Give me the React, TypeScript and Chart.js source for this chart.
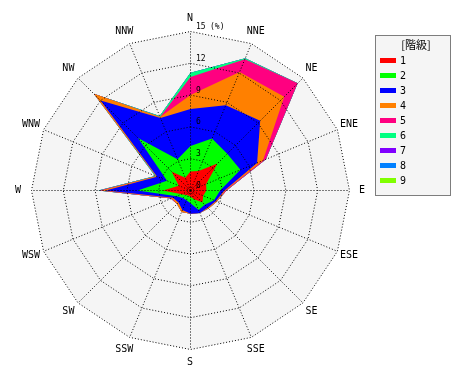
import React, { useEffect, useRef } from 'react';
import { Chart, registerables } from 'chart.js';

Chart.register(...registerables);

// 16 wind directions, clockwise from north
const directions = ['N', 'NNE', 'NE', 'ENE', 'E', 'ESE', 'SE', 'SSE', 'S', 'SSW', 'SW', 'WSW', 'W', 'WNW', 'NW', 'NNW'];

// frequency (%) of each wind-speed class per direction
const class1 = [1.8, 2.0, 3.6, 1.6, 1.5, 1.3, 1.6, 0.9, 0.6, 0.5, 0.6, 0.9, 2.6, 1.2, 2.5, 1.3];
const class2 = [2.4, 3.3, 1.3, 3.5, 1.3, 1.1, 0.3, 1.1, 0.6, 0.5, 0.4, 0.5, 2.4, 1.2, 4.5, 1.9];
const class3 = [3.5, 3.4, 4.4, 1.7, 0.4, 0.2, 0.4, 0.3, 1.0, 1.0, 0.6, 0.4, 3.0, 1.0, 5.0, 4.2];
const class4 = [1.3, 3.4, 3.2, 0.6, 0.1, 0.1, 0.1, 0.0, 0.0, 0.2, 0.2, 0.1, 0.4, 0.1, 0.9, 0.1];
const class5 = [1.7, 1.3, 1.8, 0.3, 0.1, 0.0, 0.0, 0.0, 0.0, 0.0, 0.0, 0.1, 0.2, 0.0, 0.0, 0.0];
const class6 = [0.4, 0.1, 0.0, 0.0, 0.0, 0.0, 0.0, 0.0, 0.0, 0.0, 0.0, 0.0, 0.1, 0.1, 0.0, 0.1];
const class7 = [0, 0, 0, 0, 0, 0, 0, 0, 0, 0, 0, 0, 0, 0, 0, 0];
const class8 = [0, 0, 0, 0, 0, 0, 0, 0, 0, 0, 0, 0, 0, 0, 0, 0];
const class9 = [0, 0, 0, 0, 0, 0, 0, 0, 0, 0, 0, 0, 0, 0, 0, 0];

const classSeries = [class1, class2, class3, class4, class5, class6, class7, class8, class9];
const classLabels = ['1', '2', '3', '4', '5', '6', '7', '8', '9'];
const classColors = ['#ff0000', '#00ff00', '#0000ff', '#ff8000', '#ff0080', '#00ff80', '#8000ff', '#0080ff', '#80ff00'];

const scaleMax = 15;
const scaleStep = 3;
const unitLabel = '(%)';
const legendTitle = '[階級]';

const MONO = "'DejaVu Sans Mono', 'Liberation Mono', monospace";
const BG = '#f5f5f5';

function stacked(series: number[][]): number[][] {
  const out: number[][] = [];
  let run = series[0].map(() => 0);
  for (const s of series) {
    run = run.map((v, i) => Math.round((v + s[i]) * 100) / 100);
    out.push(run.slice());
  }
  return out;
}

const decorPlugin = {
  id: 'windroseDecor',
  beforeDraw(chart: any) {
    const s = chart.scales.r;
    const ctx = chart.ctx;
    const n = chart.data.labels.length;
    // half-pixel shift so the dotted 1px grid lines land on whole pixels
    ctx.save();
    ctx.translate(0.5, 0.5);
    ctx.save();
    ctx.beginPath();
    for (let i = 0; i < n; i++) {
      const p = s.getPointPosition(i, s.drawingArea);
      if (i === 0) ctx.moveTo(p.x, p.y);
      else ctx.lineTo(p.x, p.y);
    }
    ctx.closePath();
    ctx.fillStyle = BG;
    ctx.fill();
    ctx.restore();
  },
  afterDraw(chart: any) {
    const s = chart.scales.r;
    const ctx = chart.ctx;
    ctx.restore();
    const labels: string[] = chart.data.labels;
    ctx.save();
    // direction labels
    ctx.fillStyle = '#000';
    ctx.font = `10px ${MONO}`;
    ctx.textAlign = 'center';
    ctx.textBaseline = 'middle';
    labels.forEach((lab, i) => {
      const p = s.getPointPosition(i, s.drawingArea + 13);
      ctx.fillText(lab, p.x, p.y);
    });
    // tick labels along the north axis
    ctx.font = `8px ${MONO}`;
    ctx.textAlign = 'left';
    s.ticks.forEach((t: any) => {
      const d = s.getDistanceFromCenterForValue(t.value);
      const y = s.yCenter - d - 4;
      ctx.fillText(String(t.value), s.xCenter + 6, y);
      if (t.value === scaleMax) ctx.fillText(unitLabel, s.xCenter + 20, y);
    });
    // legend box
    const lx = 375.5, ly = 35.5, lw = 75, lh = 160;
    ctx.fillStyle = BG;
    ctx.fillRect(lx, ly, lw, lh);
    ctx.strokeStyle = '#000';
    ctx.lineWidth = 1;
    ctx.setLineDash([1, 1]);
    ctx.strokeRect(lx, ly, lw, lh);
    ctx.setLineDash([]);
    ctx.fillStyle = '#000';
    ctx.font = `11px 'Noto Sans CJK JP', ${MONO}`;
    ctx.textAlign = 'center';
    ctx.fillText(legendTitle, lx + lw / 2 + 3, ly + 9);
    ctx.font = `10px ${MONO}`;
    ctx.textAlign = 'left';
    chart.data.datasets.forEach((ds: any, i: number) => {
      const cy = 60 + i * 15;
      ctx.fillStyle = ds.backgroundColor;
      ctx.fillRect(380, cy - 2, 16, 5);
      ctx.fillStyle = '#000';
      ctx.fillText(ds.label, 400, cy + 1);
    });
    ctx.restore();
  },
};

export default function App() {
  const ref = useRef<HTMLCanvasElement | null>(null);
  useEffect(() => {
    if (!ref.current) return;
    const cum = stacked(classSeries);
    const chart = new Chart(ref.current, {
      type: 'radar',
      data: {
        labels: directions,
        datasets: cum.map((vals, i) => ({
          label: classLabels[i],
          data: vals,
          backgroundColor: classColors[i],
          borderColor: 'rgba(0,0,0,0)',
          borderWidth: 0,
          pointRadius: 0,
          pointHoverRadius: 0,
          fill: 'origin',
          tension: 0,
        })),
      },
      options: {
        responsive: false,
        animation: false,
        events: [],
        layout: { padding: { left: 31, top: 31, right: 121, bottom: 31 } },
        plugins: {
          legend: { display: false },
          tooltip: { enabled: false },
          title: { display: false },
        },
        scales: {
          r: {
            min: 0,
            max: scaleMax,
            ticks: { stepSize: scaleStep, display: false },
            pointLabels: { display: false },
            grid: { color: '#000', lineWidth: 1, z: 1, circular: false },
            border: { dash: [1, 2] },
            angleLines: { color: '#000', lineWidth: 1, borderDash: [1, 2] },
          },
        },
      } as any,
      plugins: [decorPlugin],
    });
    return () => chart.destroy();
  }, []);
  return (
    <div style={{ position: 'absolute', left: 0, top: 0, width: 470, height: 380, background: '#fff' }}>
      <canvas ref={ref} width={470} height={380} />
    </div>
  );
}
